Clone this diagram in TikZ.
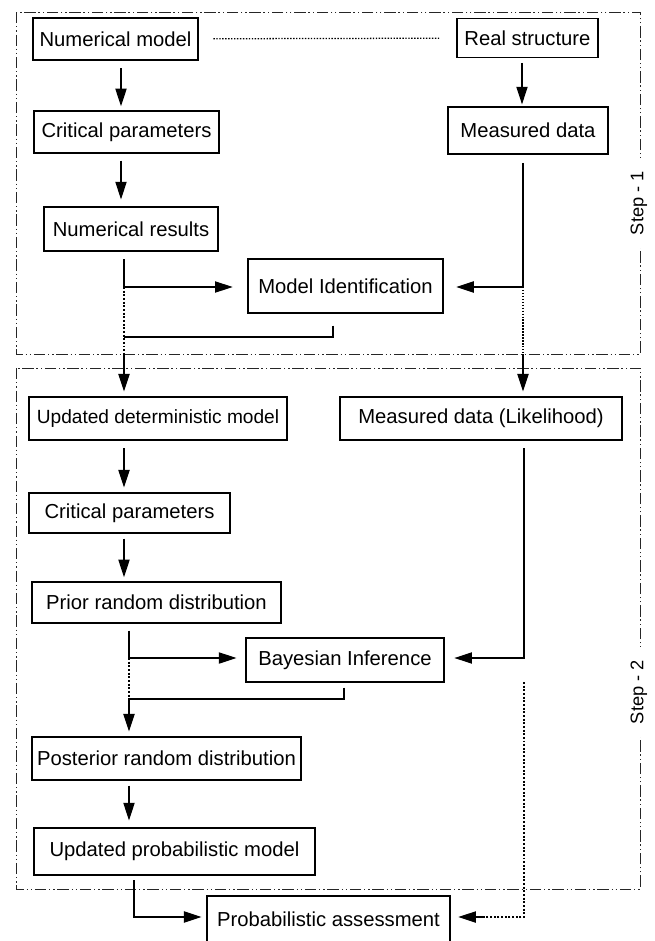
\documentclass[tikz,border=0pt]{standalone}
\usepackage{fontspec}
\setmainfont{Liberation Sans}
\usetikzlibrary{arrows.meta}
\tikzset{every picture/.style={semithick}}
\tikzset{box/.style={draw, line width=0.8pt, inner sep=0pt, font=\fontsize{14.4}{16}\selectfont}}
\tikzset{stepframe/.style={draw=black!85, line width=0.7pt, dash pattern=on 8pt off 2pt on 1pt off 2pt on 1pt off 2pt}}
\tikzset{steplabel/.style={rotate=90, fill=white, inner xsep=9pt, inner ysep=1pt, font=\fontsize{13}{15}\selectfont}}
\tikzset{dots/.style={line width=1.6pt, dash pattern=on 1.4pt off 1.2pt}}
\tikzset{thindots/.style={line width=0.9pt, dash pattern=on 1pt off 1.1pt}}

\begin{document}
\begin{tikzpicture}[x=0.025cm,y=-0.025cm,line width=0.8pt,>={Triangle[length=12.5pt,width=8pt]}]
    \useasboundingbox (0,0) rectangle (654,941);
    \draw[stepframe] (16,12) rectangle (640,354);
    \draw[stepframe] (16,368) rectangle (640,889);
    \node[steplabel] (s1) at (639,203) {Step - 1};
    \node[steplabel] (s2) at (639,692) {Step - 2};

    \node[box,minimum width=117.4pt,minimum height=29.9pt] (nm) at (115.5,39) {Numerical model};
    \node[box,minimum width=100.3pt,minimum height=27.7pt] (rs) at (527.5,38) {Real structure};
    \node[box,minimum width=131.6pt,minimum height=29.9pt] (cp1) at (126.5,132) {Critical parameters};
    \node[box,minimum width=113.8pt,minimum height=33.4pt] (md) at (528,130.5) {Measured data};
    \node[box,minimum width=123.8pt,minimum height=31.3pt] (nr) at (131,229) {Numerical results};
    \node[box,minimum width=138.7pt,minimum height=38.4pt] (mi) at (345.5,286) {Model Identification};
    \node[box,minimum width=183.5pt,minimum height=30.6pt,font=\fontsize{13.6}{15}\selectfont] (udm) at (158,418.5) {Updated deterministic model};
    \node[box,minimum width=200.6pt,minimum height=30.6pt] (mdl) at (481,418.5) {Measured data (Likelihood)};
    \node[box,minimum width=143.0pt,minimum height=28.5pt] (cp2) at (129.5,513) {Critical parameters};
    \node[box,minimum width=177.1pt,minimum height=29.2pt] (prd) at (156.5,602.5) {Prior random distribution};
    \node[box,minimum width=140.8pt,minimum height=31.3pt] (bi) at (345,660) {Bayesian Inference};
    \node[box,minimum width=191.3pt,minimum height=30.6pt] (pos) at (166.5,758.5) {Posterior random distribution};
    \node[box,minimum width=199.9pt,minimum height=33.4pt] (upm) at (174.5,851.5) {Updated probabilistic model};
    \node[box,minimum width=172.8pt,minimum height=33.4pt] (pa) at (328.5,919.5) {Probabilistic assessment};

    \coordinate (xa) at (121,0);
    \coordinate (xb) at (124,0);
    \coordinate (xr) at (522,0);
    \coordinate (j1) at (124,287);
    \coordinate (j2) at (523,287);
    \coordinate (j3) at (124,337);
    \coordinate (fb1) at (333,337);
    \coordinate (f1) at (124,354);
    \coordinate (f2) at (523,354);
    \coordinate (j4) at (129,658);
    \coordinate (j5) at (524,658);
    \coordinate (j6) at (129,699);
    \coordinate (fb2) at (344,699);
    \coordinate (d1) at (524,682);
    \coordinate (j7) at (134,917);
    \coordinate (j8) at (524,917);
    \coordinate (j9) at (483,917);

    \draw[thindots,shorten <=10.5pt,shorten >=12pt] (nm) -- (rs);
    \draw[->,shorten <=5.5pt,shorten >=3pt] (nm.south -| xa) -- (cp1.north -| xa);
    \draw[->,shorten <=5pt,shorten >=5pt] (cp1.south -| xa) -- (nr.north -| xa);
    \draw[->,shorten <=3.5pt,shorten >=1.5pt] (rs.south -| xr) -- (md.north -| xr);
    \draw[->,shorten <=5.5pt,shorten >=10.5pt] (nr.south -| j1) -- (j1) -- (mi.west |- j1);
    \draw[->,shorten <=6pt,shorten >=9pt] (md.south -| j2) -- (j2) -- (mi.east |- j2);
    \draw[shorten <=8.5pt] (mi.south -| fb1) -- (fb1) -- (j3);
    \draw[dots] (j1) -- (f1);
    \draw[thindots] (j2) -- (f2);
    \draw[->,shorten >=3.5pt] (f1) -- (udm.north -| f1);
    \draw[->,shorten >=3.5pt] (f2) -- (mdl.north -| f2);

    \draw[->,shorten <=5.5pt,shorten >=3.5pt] (udm.south -| xb) -- (cp2.north -| xb);
    \draw[->,shorten <=3.5pt,shorten >=3pt] (cp2.south -| xb) -- (prd.north -| xb);
    \draw[->,shorten <=5pt,shorten >=6.4pt] (prd.south -| j4) -- (j4) -- (bi.west |- j4);
    \draw[->,shorten <=5.5pt,shorten >=7pt] (mdl.south -| j5) -- (j5) -- (bi.east |- j5);
    \draw[shorten <=3.5pt] (bi.south -| fb2) -- (fb2) -- (j6);
    \draw[dots] (j4) -- (j6);
    \draw[->,shorten >=3.5pt] (j6) -- (pos.north -| j6);
    \draw[->,shorten <=3.5pt,shorten >=5pt] (pos.south -| j4) -- (upm.north -| j4);
    \draw[->,shorten <=3.5pt,shorten >=3.5pt] (upm.south -| j7) -- (j7) -- (pa.west |- j7);
    \draw[dots] (d1) -- (j8) -- (j9);
    \draw[->,shorten >=5.5pt] (j9) -- (pa.east |- j9);
\end{tikzpicture}
\end{document}
